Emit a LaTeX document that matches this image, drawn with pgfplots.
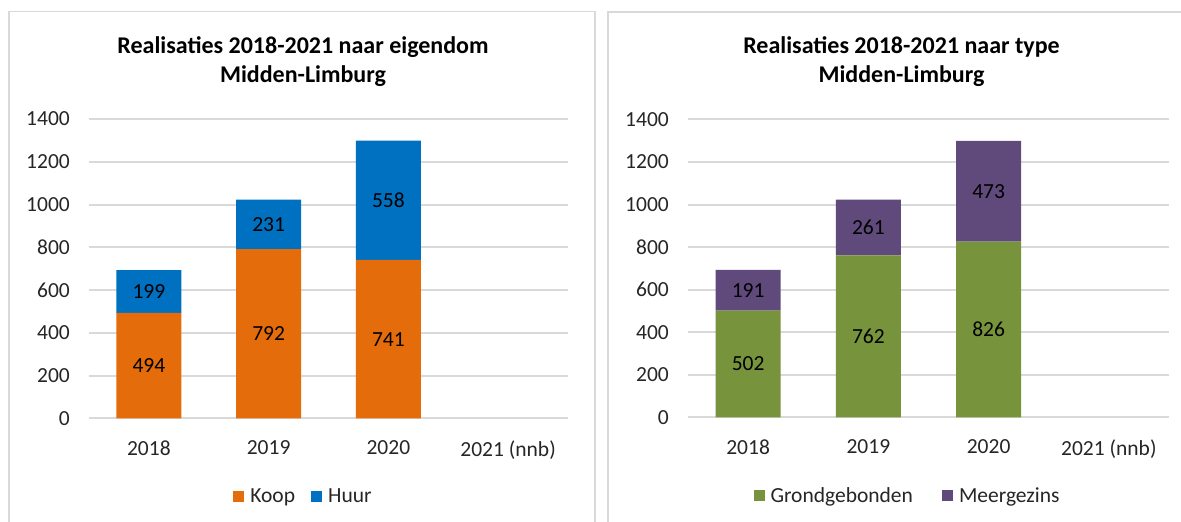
\documentclass[border=0pt]{standalone}
\usepackage{fontspec}
\setmainfont{Carlito}
\usepackage{pgfplots}
\pgfplotsset{compat=1.18}
\definecolor{koop}{RGB}{228,108,10}
\definecolor{huur}{RGB}{0,112,192}
\definecolor{grond}{RGB}{119,147,60}
\definecolor{meer}{RGB}{96,74,123}
\definecolor{gridgray}{RGB}{217,217,217}
\definecolor{labelgray}{RGB}{38,38,38}
\newcommand{\lblfont}{\fontsize{21.5}{24}\selectfont}
\pgfplotsset{
  mychart/.style={
    scale only axis, anchor=south west,
    xmin=-0.5, xmax=3.5, ymin=0, ymax=1400,
    ytick={0,200,...,1400}, xtick={0,1,2,3},
    xticklabels={2018,2019,2020,2021 (nnb)},
    ymajorgrids, grid style={line width=2pt, color=gridgray},
    axis line style={draw=none}, major tick length=0pt, tick style={draw=none},
    ticklabel style={font=\lblfont, text=labelgray},
    /pgf/number format/assume math mode=true,
    /pgf/number format/1000 sep={},
    yticklabel style={inner sep=0pt, anchor=east, xshift=-19pt},
    xticklabel style={inner sep=0pt, anchor=north, yshift=-22pt},
    ybar stacked, bar width=65pt,
    legend columns=2,
    legend style={draw=none, fill=none, font=\lblfont, anchor=center,
      inner sep=0pt, nodes={inner sep=0pt, text=labelgray}, column sep=0pt},
    legend image code/.code={\fill[#1,draw=none] (0pt,-5.5pt) rectangle (11pt,5.5pt); \path (0pt,0pt) (17pt,0pt);},
    title style={font=\bfseries\fontsize{24}{29}\selectfont, align=center,
      anchor=south, inner sep=0pt, text=black},
  },
  labels/.style={
    scale only axis, anchor=south west, hide axis,
    xmin=-0.5, xmax=3.5, ymin=0, ymax=1400,
  },
  lbl/.style={only marks, mark=*, mark size=0pt, mark options={draw=none,fill=none},
    nodes near coords, point meta=explicit symbolic,
    every node near coord/.append style={anchor=center, font=\lblfont, text=black, inner sep=0pt}},
}
\begin{document}
\begin{tikzpicture}
\useasboundingbox (0,0) rectangle (1181pt,522pt);
\clip (0,0) rectangle (1181pt,522pt);
\fill[white] (0,0) rectangle (1181pt,522pt);
\draw[gridgray, line width=1.5pt] (9pt,-5pt) -- (9pt,510.5pt) -- (595pt,510.5pt) -- (595pt,-5pt);
\draw[gridgray, line width=1.5pt] (608pt,-5pt) -- (608pt,510pt) -- (1195pt,510pt);

% Left chart
\begin{axis}[mychart, at={(89pt,103.5pt)}, width=479pt, height=299.5pt,
  title={Realisaties 2018-2021 naar eigendom\\Midden-Limburg},
  title style={at={(0.5,1)}, xshift=-25.5pt, yshift=26.5pt},
  legend style={at={(0.4457,-0.2588)}, /tikz/every even column/.append style={column sep=16pt}}]
\addplot[fill=koop, draw=none] coordinates {(0,494) (1,792) (2,741)};
\addlegendentry{Koop}
\addplot[fill=huur, draw=none] coordinates {(0,199) (1,231) (2,558)};
\addlegendentry{Huur}
\end{axis}
\begin{axis}[labels, at={(89pt,103.5pt)}, width=479pt, height=299.5pt]
\addplot[lbl] coordinates {(0,247)[494] (1,396)[792] (2,370.5)[741]
  (0,593.5)[199] (1,907.5)[231] (2,1020)[558]};
\end{axis}

% Right chart
\begin{axis}[mychart, at={(688pt,104.5pt)}, width=481pt, height=298pt,
  title={Realisaties 2018-2021 naar type\\Midden-Limburg},
  title style={at={(0.5,1)}, xshift=-27pt, yshift=26.5pt},
  legend style={at={(0.4543,-0.2634)}, /tikz/every even column/.append style={column sep=29pt}}]
\addplot[fill=grond, draw=none] coordinates {(0,502) (1,762) (2,826)};
\addlegendentry{Grondgebonden}
\addplot[fill=meer, draw=none] coordinates {(0,191) (1,261) (2,473)};
\addlegendentry{Meergezins}
\end{axis}
\begin{axis}[labels, at={(688pt,104.5pt)}, width=481pt, height=298pt]
\addplot[lbl] coordinates {(0,251)[502] (1,381)[762] (2,413)[826]
  (0,597.5)[191] (1,892.5)[261] (2,1062.5)[473]};
\end{axis}
\end{tikzpicture}
\end{document}
